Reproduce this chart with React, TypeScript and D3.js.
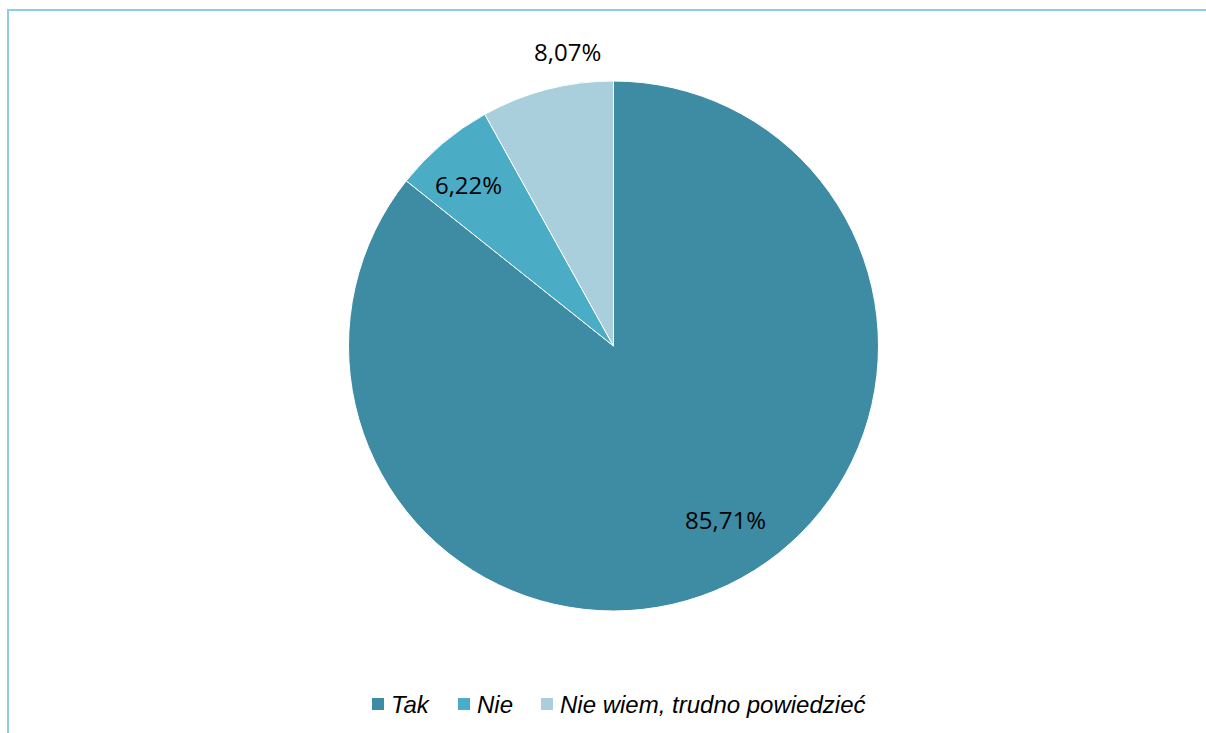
import React from "react";
import * as d3 from "d3";

const categories = ["Tak", "Nie", "Nie wiem, trudno powiedzieć"];
const values = [85.71, 6.22, 8.07];
const labels = ["85,71%", "6,22%", "8,07%"];
const colors = ["#3E8CA4", "#4BACC6", "#A9CEDC"];

export default function App() {
  const W = 1206, H = 733;
  const cx = 613.5, cy = 346, r = 265;
  const pie = d3.pie<number>().sort(null).value((d) => d);
  const arcs = pie(values);
  const arc = d3.arc<d3.PieArcDatum<number>>().innerRadius(0).outerRadius(r);
  // label placement: radius fraction and angular offset (degrees) from slice mid-angle
  const labelFrac = [0.78, 0.82, 1.126];
  const labelOff = [-7.1, -1.6, 5.7];
  const legendX = [372, 458, 541];
  return (
    <svg width={W} height={H} style={{ position: "absolute", left: 0, top: 0 }}>
      <rect x={0} y={0} width={W} height={H} fill="#fff" />
      <line x1={7} y1={10} x2={1206} y2={10} stroke="#8ECFDD" strokeWidth={2} />
      <line x1={8} y1={9} x2={8} y2={733} stroke="#8ECFDD" strokeWidth={2} />
      <g transform={`translate(${cx},${cy})`}>
        {arcs.map((a, i) => (
          <path key={i} d={arc(a) || ""} fill={colors[i]} stroke="#fff" strokeWidth={1} />
        ))}
        {arcs.map((a, i) => {
          const ang = (a.startAngle + a.endAngle) / 2 + (labelOff[i] * Math.PI) / 180;
          const d = r * labelFrac[i];
          const x = d * Math.sin(ang);
          const y = -d * Math.cos(ang);
          return (
            <text key={i} x={x} y={y} textAnchor="middle" dominantBaseline="central"
              fontFamily="'Open Sans', sans-serif" fontSize={24} fill="#000">
              {labels[i]}
            </text>
          );
        })}
      </g>
      {categories.map((c, i) => (
        <g key={i}>
          <rect x={legendX[i]} y={698} width={12} height={12} fill={colors[i]} />
          <text x={legendX[i] + 19} y={713} fontFamily="'Liberation Sans', Arial, sans-serif"
            fontStyle="italic" fontSize={24} fill="#000">{c}</text>
        </g>
      ))}
    </svg>
  );
}
